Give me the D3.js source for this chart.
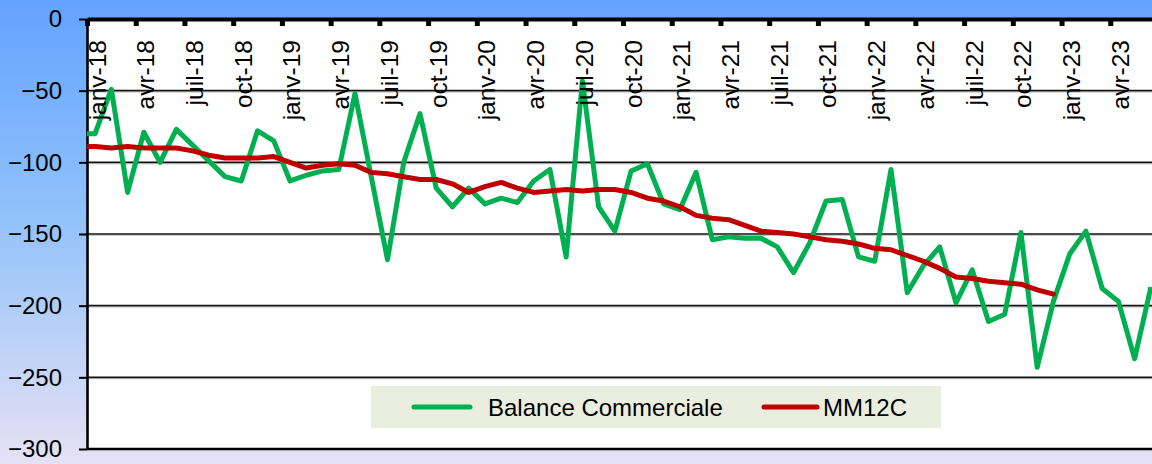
<!DOCTYPE html>
<html>
<head>
<meta charset="utf-8">
<script src="https://cdn.jsdelivr.net/npm/d3@7"></script>
<style>
  body { margin: 0; background: #fff; }
  text { font-family: "Liberation Sans", Arial, sans-serif; fill: #000; }
</style>
</head>
<body>
<div id="chart"></div>
<script>
// Months (déc-17 is outside the visible axis, only its line segment shows)
let months = [
  "déc-17",
  "janv-18", "févr-18", "mars-18", "avr-18", "mai-18", "juin-18", "juil-18", "août-18", "sept-18", "oct-18", "nov-18", "déc-18",
  "janv-19", "févr-19", "mars-19", "avr-19", "mai-19", "juin-19", "juil-19", "août-19", "sept-19", "oct-19", "nov-19", "déc-19",
  "janv-20", "févr-20", "mars-20", "avr-20", "mai-20", "juin-20", "juil-20", "août-20", "sept-20", "oct-20", "nov-20", "déc-20",
  "janv-21", "févr-21", "mars-21", "avr-21", "mai-21", "juin-21", "juil-21", "août-21", "sept-21", "oct-21", "nov-21", "déc-21",
  "janv-22", "févr-22", "mars-22", "avr-22", "mai-22", "juin-22", "juil-22", "août-22", "sept-22", "oct-22", "nov-22", "déc-22",
  "janv-23", "févr-23", "mars-23", "avr-23", "mai-23", "juin-23"
];

let balance = [
  -80,
  -80, -49, -121, -79, -100, -77, -88, -99, -110, -113, -78, -85,
  -113, -109, -106, -105, -52, -110, -168, -100, -66, -118, -131, -118,
  -129, -125, -128, -113, -105, -166, -43, -131, -148, -106, -101, -129,
  -133, -107, -154, -152, -153, -153, -159, -177, -156, -127, -126, -166,
  -169, -105, -191, -172, -159, -198, -175, -211, -206, -149, -243, -197,
  -164, -148, -188, -197, -237, -187
];

let mm12c = [
  -89,
  -89, -90, -89, -90, -90, -90, -92, -95, -97, -97, -97, -96,
  -100, -104, -102, -101, -102, -107, -108, -110, -112, -112, -115, -121,
  -117, -114, -118, -121, -120, -119, -120, -119, -119, -121, -125, -127,
  -131, -137, -139, -140, -144, -148, -149, -150, -152, -154, -155, -157,
  -160, -161, -165, -169, -174, -180, -181, -183, -184, -185, -189, -192,
  null, null, null, null, null, null
];

let tickLabels = [
  "janv-18", "avr-18", "juil-18", "oct-18",
  "janv-19", "avr-19", "juil-19", "oct-19",
  "janv-20", "avr-20", "juil-20", "oct-20",
  "janv-21", "avr-21", "juil-21", "oct-21",
  "janv-22", "avr-22", "juil-22", "oct-22",
  "janv-23", "avr-23"
];
let yTicks = [0, -50, -100, -150, -200, -250, -300];

let W = 1152, H = 464;
let margin = { top: 19, left: 87, bottom: 15 };
let plotRight = 1159;

let svg = d3.select("#chart").append("svg")
  .attr("width", W)
  .attr("height", H);

// Background gradient
let defs = svg.append("defs");
let grad = defs.append("linearGradient")
  .attr("id", "bg")
  .attr("x1", 0).attr("y1", 0).attr("x2", 0).attr("y2", 1);
grad.append("stop").attr("offset", "0%").attr("stop-color", "#63a2ff");
grad.append("stop").attr("offset", "45%").attr("stop-color", "#8fc1fa");
grad.append("stop").attr("offset", "100%").attr("stop-color", "#e6e1f5");

svg.append("rect").attr("width", W).attr("height", H).attr("fill", "url(#bg)");

// Scales: month index 0 = start of janv-18
let x = d3.scaleLinear().domain([0, 66]).range([margin.left, plotRight]);
let y = d3.scaleLinear().domain([-300, 0]).range([H - margin.bottom, margin.top]);
let px = (k) => x(k - 0.5); // category centre (k=0 is déc-17)

defs.append("clipPath").attr("id", "plot")
  .append("rect")
  .attr("x", x(0)).attr("y", y(0) - 2)
  .attr("width", plotRight - x(0)).attr("height", y(-300) - y(0) + 4);

// Plot area
svg.append("rect")
  .attr("x", x(0)).attr("y", y(0))
  .attr("width", plotRight - x(0)).attr("height", y(-300) - y(0))
  .attr("fill", "#fff");

// Gridlines (with a faint shadow like the original)
let grid = svg.append("g");
grid.selectAll(".shadow")
  .data(yTicks.slice(1, -1))
  .enter().append("line")
  .attr("x1", x(0)).attr("x2", plotRight)
  .attr("y1", (d) => y(d) + 1.5).attr("y2", (d) => y(d) + 1.5)
  .attr("stroke", "#c8c8c8").attr("stroke-width", 1);
grid.selectAll(".gl")
  .data(yTicks.slice(1, -1))
  .enter().append("line")
  .attr("x1", x(0)).attr("x2", plotRight)
  .attr("y1", (d) => y(d)).attr("y2", (d) => y(d))
  .attr("stroke", "#111").attr("stroke-width", 1.6);

// Bottom border
svg.append("line")
  .attr("x1", x(0)).attr("x2", plotRight)
  .attr("y1", y(-300)).attr("y2", y(-300))
  .attr("stroke", "#000").attr("stroke-width", 2.5);

// Y axis
let yAxis = svg.append("g")
  .attr("transform", `translate(${x(0)},0)`)
  .call(d3.axisLeft(y).tickValues(yTicks).tickSize(8).tickPadding(17).tickSizeOuter(0));
yAxis.select(".domain").attr("stroke", "#000").attr("stroke-width", 2.6);
yAxis.selectAll(".tick line").attr("stroke", "#000").attr("stroke-width", 2);
yAxis.selectAll(".tick text")
  .style("font-size", "24px")
  .style("font-family", "'Liberation Sans', Arial, sans-serif")
  .attr("fill", "#000");

// Legend box
let legend = svg.append("g");
legend.append("rect")
  .attr("x", 371).attr("y", 386)
  .attr("width", 570).attr("height", 42)
  .attr("fill", "#eaeedf");

// Lines
let line = d3.line()
  .defined((d) => d != null)
  .x((d, i) => px(i))
  .y((d) => y(d));

let lines = svg.append("g").attr("clip-path", "url(#plot)");
lines.append("path")
  .datum(balance)
  .attr("d", line)
  .attr("fill", "none")
  .attr("stroke", "#00b050")
  .attr("stroke-width", 5)
  .attr("stroke-linejoin", "round");
lines.append("path")
  .datum(mm12c)
  .attr("d", line)
  .attr("fill", "none")
  .attr("stroke", "#c00000")
  .attr("stroke-width", 5)
  .attr("stroke-linejoin", "round")
  .attr("stroke-linecap", "round");

// X axis at top (value 0)
let tickVals = tickLabels.map((d, i) => i * 3);
let xAxis = svg.append("g")
  .attr("transform", `translate(0,${y(0)})`)
  .call(d3.axisBottom(x).tickValues(tickVals).tickSize(7).tickSizeOuter(0)
    .tickFormat((d, i) => tickLabels[i]));
xAxis.select(".domain").attr("stroke", "#000").attr("stroke-width", 4);
xAxis.selectAll(".tick line").attr("stroke", "#000").attr("stroke-width", 5);
xAxis.selectAll(".tick text")
  .attr("x", 0).attr("y", 0).attr("dy", 0)
  .attr("transform", "translate(18,21) rotate(-90)")
  .style("text-anchor", "end")
  .style("font-size", "24.5px")
  .style("font-family", "'Liberation Sans', Arial, sans-serif")
  .attr("fill", "#000");

// Legend entries
let legendItems = [
  { name: "Balance Commerciale", color: "#00b050", x0: 414, x1: 470, tx: 488 },
  { name: "MM12C", color: "#c00000", x0: 764, x1: 817, tx: 823 }
];
legendItems.forEach((d) => {
  legend.append("line")
    .attr("x1", d.x0).attr("x2", d.x1)
    .attr("y1", 407).attr("y2", 407)
    .attr("stroke", d.color)
    .attr("stroke-width", 5)
    .attr("stroke-linecap", "round");
  legend.append("text")
    .attr("x", d.tx).attr("y", 416)
    .style("font-size", "24px")
    .text(d.name);
});
</script>
</body>
</html>
